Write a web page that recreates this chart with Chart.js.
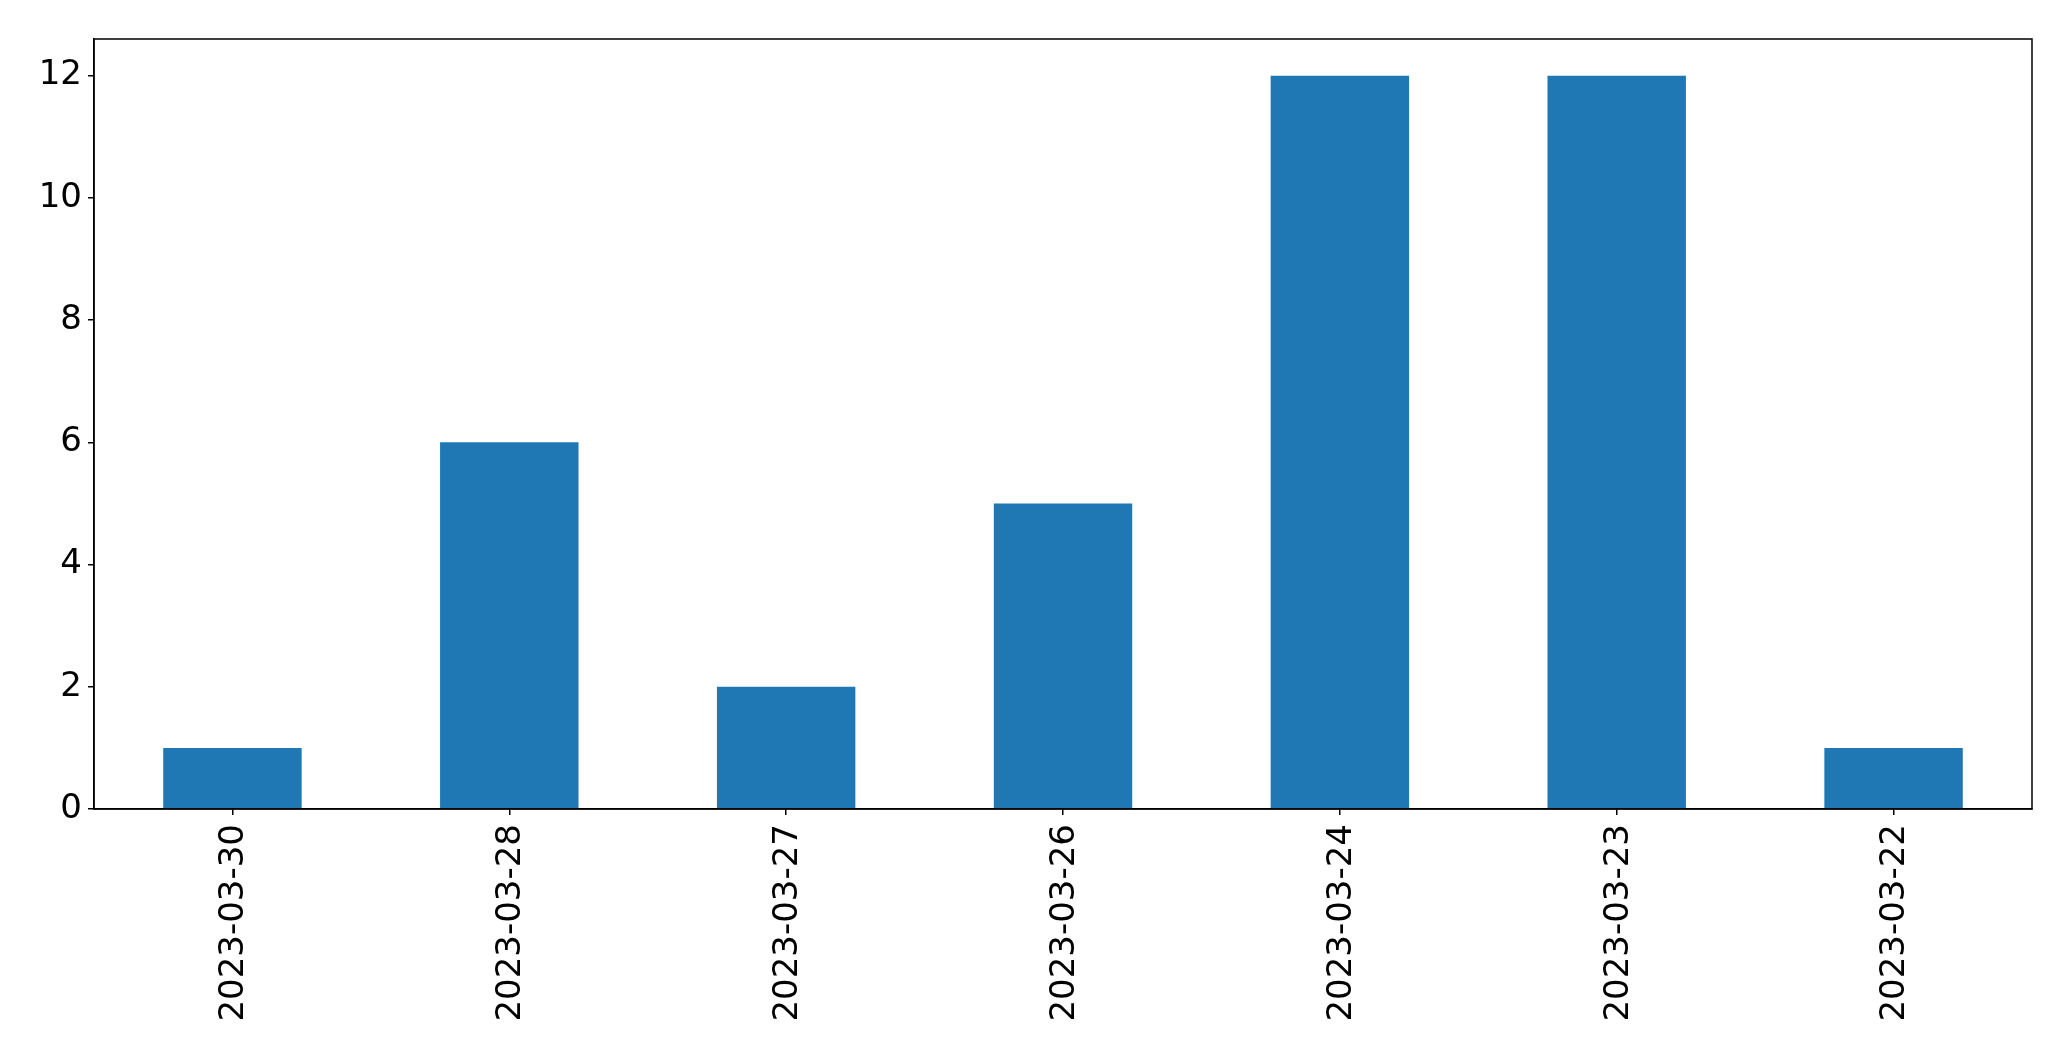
<!DOCTYPE html>
<html>
<head>
<meta charset="utf-8">
<script src="https://cdn.jsdelivr.net/npm/chart.js@4"></script>
<style>
  html, body { margin: 0; padding: 0; background: #fff; }
  canvas { display: block; }
</style>
</head>
<body>
<canvas id="graph1" width="2071" height="1061"></canvas>
<script>
// dates (in the order shown) and count per date
const dates = ['2023-03-30', '2023-03-28', '2023-03-27', '2023-03-26', '2023-03-24', '2023-03-23', '2023-03-22'];
const counts = [1, 6, 2, 5, 12, 12, 1];
const yTicks = [0, 2, 4, 6, 8, 10, 12];

// draws the full box around the plot, like matplotlib
const frame = {
    id: 'frame',
    afterDraw(chart) {
        const a = chart.chartArea;
        const ctx = chart.ctx;
        ctx.save();
        ctx.strokeStyle = '#000';
        ctx.lineWidth = 1.5;
        ctx.strokeRect(a.left, a.top, a.right - a.left, a.bottom - a.top);
        ctx.restore();
    }
};

const config = {
    type: 'bar',
    data: {
        labels: dates,
        datasets: [{
            data: counts,
            backgroundColor: '#1f77b4',
            borderWidth: 0,
            categoryPercentage: 1.0,
            barPercentage: 0.5,
        }]
    },
    options: {
        responsive: false,
        animation: false,
        devicePixelRatio: 1,
        layout: { padding: { top: 39, right: 39, left: 0, bottom: 0 } },
        plugins: {
            legend: { display: false },
            tooltip: { enabled: false },
        },
        scales: {
            x: {
                grid: { offset: false, drawOnChartArea: false, drawTicks: true, tickLength: 6, color: '#000', lineWidth: 1.5 },
                border: { display: true, color: '#000', width: 1.5 },
                ticks: {
                    color: '#000',
                    maxRotation: 90,
                    minRotation: 90,
                    padding: 9,
                    labelOffset: 2,
                    font: { family: 'DejaVu Sans', size: 34 },
                },
                afterFit(scale) { scale.height = 252; },
            },
            y: {
                min: 0,
                max: 12.6,
                grid: { drawOnChartArea: false, drawTicks: true, tickLength: 6, color: '#000', lineWidth: 1.5 },
                border: { display: true, color: '#000', width: 1.5 },
                afterBuildTicks(scale) { scale.ticks = yTicks.map(v => ({ value: v })); },
                ticks: {
                    color: '#000',
                    padding: 6,
                    font: { family: 'DejaVu Sans', size: 34 },
                },
                afterFit(scale) { scale.width = 94; },
            }
        }
    },
    plugins: [frame]
};

const chart = new Chart(document.getElementById('graph1'), config);
</script>
</body>
</html>
